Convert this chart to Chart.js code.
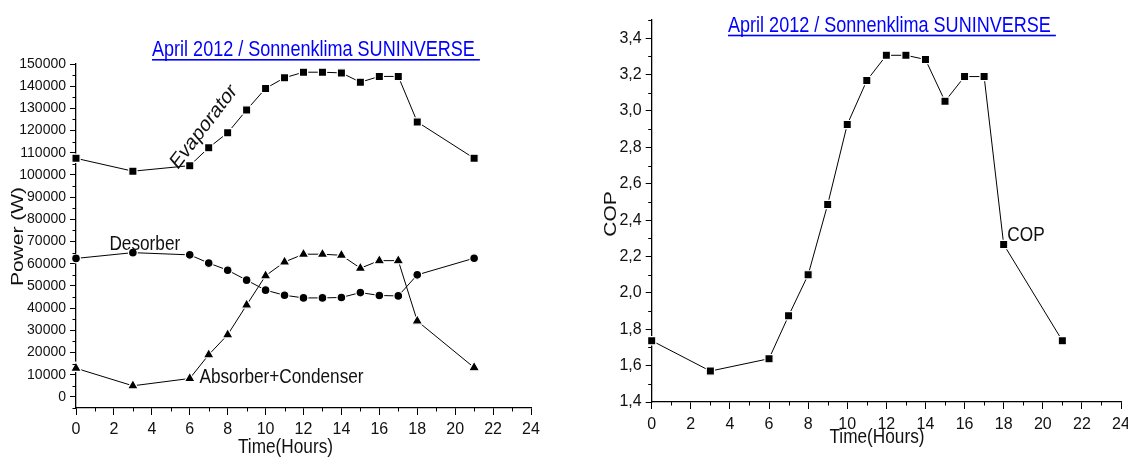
<!DOCTYPE html>
<html><head><meta charset="utf-8">
<script src="https://cdn.jsdelivr.net/npm/chart.js@4.4.1/dist/chart.umd.min.js"></script>
<style>
html,body{margin:0;padding:0;background:#fff;}
#wrap{position:relative;width:1128px;height:459px;overflow:hidden;background:#fff;}
.box{position:absolute;top:0;height:459px;}
</style></head><body>
<div id="wrap">
<div class="box" style="left:0;width:566px"><canvas id="left"></canvas></div>
<div class="box" style="left:566px;width:562px"><canvas id="right"></canvas></div>
</div>
<script>
// ---- data ----
const hours = [0, 3, 6, 7, 8, 9, 10, 11, 12, 13, 14, 15, 16, 17, 18, 21];
const evaporator = [107500, 101700, 104200, 112300, 119000, 129300, 139000, 143800, 146300, 146300, 146000, 141800, 144400, 144400, 123900, 107500];
const desorber = [62400, 65000, 64000, 60300, 57100, 52600, 48100, 45800, 44600, 44600, 44800, 47000, 45700, 45500, 55000, 62500];
const absorberCondenser = [12900, 5000, 8300, 19000, 28000, 41400, 54600, 60800, 64300, 64300, 63800, 58000, 61400, 61400, 34200, 13200];
const cop = [1.737, 1.570, 1.638, 1.874, 2.099, 2.486, 2.925, 3.167, 3.306, 3.306, 3.283, 3.053, 3.189, 3.189, 2.266, 1.737];

// ---- ticks ----
const xTicks = [0, 2, 4, 6, 8, 10, 12, 14, 16, 18, 20, 22, 24];
const xTickLabels = ['0', '2', '4', '6', '8', '10', '12', '14', '16', '18', '20', '22', '24'];
const xMinor = [1, 3, 5, 7, 9, 11, 13, 15, 17, 19, 21, 23];
const powerTicks = [0, 10000, 20000, 30000, 40000, 50000, 60000, 70000, 80000, 90000, 100000, 110000, 120000, 130000, 140000, 150000];
const powerTickLabels = ['0', '10000', '20000', '30000', '40000', '50000', '60000', '70000', '80000', '90000', '100000', '110000', '120000', '130000', '140000', '150000'];
const powerMinor = [-5000, 5000, 15000, 25000, 35000, 45000, 55000, 65000, 75000, 85000, 95000, 105000, 115000, 125000, 135000, 145000];
const copTicks = [1.4, 1.6, 1.8, 2.0, 2.2, 2.4, 2.6, 2.8, 3.0, 3.2, 3.4];
const copTickLabels = ['1,4', '1,6', '1,8', '2,0', '2,2', '2,4', '2,6', '2,8', '3,0', '3,2', '3,4'];
const copMinor = [1.5, 1.7, 1.9, 2.1, 2.3, 2.5, 2.7, 2.9, 3.1, 3.3, 3.5];

const titleText = 'April 2012 / Sonnenklima SUNINVERSE';

const FN = '"Liberation Sans Narrow", "Arial Narrow", "Liberation Sans", Arial, sans-serif';
const FT = '"Liberation Sans", Arial, sans-serif';
const SX = 0.82;

const minorPlugin = {
  id: 'minorTicks',
  afterDraw(chart, args, o) {
    const ctx = chart.ctx, a = chart.chartArea;
    const xs = chart.scales.x, ys = chart.scales.y;
    ctx.save();
    ctx.strokeStyle = '#000'; ctx.lineWidth = 1;
    ctx.beginPath();
    (o.x || []).forEach(v => { const p = Math.round(xs.getPixelForValue(v)) + 0.5; ctx.moveTo(p, a.bottom); ctx.lineTo(p, a.bottom + o.len); });
    (o.y || []).forEach(v => { const p = Math.round(ys.getPixelForValue(v)) + 0.5; ctx.moveTo(a.left, p); ctx.lineTo(a.left - o.len, p); });
    ctx.stroke();
    ctx.restore();
  }
};

const textPlugin = {
  id: 'texts',
  afterDraw(chart, args, o) {
    const ctx = chart.ctx;
    (o.items || []).forEach(it => {
      let px = it.px, py = it.py;
      if (it.dx !== undefined) { px = chart.scales.x.getPixelForValue(it.dx); py = chart.scales.y.getPixelForValue(it.dy); }
      ctx.save();
      ctx.translate(px, py);
      ctx.scale(SX, 1);
      if (it.rot) ctx.rotate(it.rot * Math.PI / 180);
      ctx.font = it.size + 'px ' + FT;
      ctx.fillStyle = it.color || '#111';
      ctx.textAlign = it.align || 'center';
      ctx.textBaseline = it.baseline || 'middle';
      ctx.fillText(it.text, 0, 0);
      if (it.underline) {
        const w = ctx.measureText(it.text + ' ').width;
        ctx.fillRect(0, 3, w, 1.6);
      }
      ctx.restore();
    });
  }
};

function series(vals, style, radius) {
  return {
    data: hours.map((h, i) => ({ x: h, y: vals[i] })),
    borderColor: '#000', borderWidth: 1, tension: 0, fill: false,
    pointStyle: style, pointRadius: radius, pointBackgroundColor: '#000',
    pointBorderColor: '#fff', pointBorderWidth: 1.2, clip: false
  };
}

function xScale(h, pad) {
  return {
    type: 'linear', min: 0, max: 24,
    afterBuildTicks: s => { s.ticks = xTicks.map(v => ({ value: v })); },
    afterFit: s => { s.height = h; s.paddingLeft = 0; s.paddingRight = 0; },
    ticks: { font: { family: FN, size: 16 }, color: '#111', padding: pad, maxRotation: 0, autoSkip: false, callback: (v, i) => xTickLabels[i] },
    grid: { drawOnChartArea: false, drawTicks: true, tickLength: 7, tickColor: '#000', tickWidth: 1 },
    border: { display: true, color: '#000', width: 1.3 }
  };
}

new Chart(document.getElementById('left'), {
  type: 'line',
  data: { datasets: [
    series(evaporator, 'rect', 5.8),
    series(desorber, 'circle', 4.4),
    series(absorberCondenser, 'triangle', 6.3)
  ] },
  options: {
    responsive: true, maintainAspectRatio: false, animation: false, devicePixelRatio: 1,
    layout: { padding: { top: 64, right: 35, left: 0, bottom: 0 } },
    plugins: {
      legend: { display: false }, tooltip: { enabled: false }, title: { display: false },
      minorTicks: { x: xMinor, y: powerMinor, len: 3.5 },
      texts: { items: [
        { text: titleText, px: 152, py: 56, size: 22, color: '#0000ff', align: 'left', baseline: 'alphabetic', underline: true },
        { text: 'Time(Hours)', px: 285.5, py: 447, size: 21 },
        { text: 'Power (W)', px: 18.5, py: 236.5, size: 21, rot: -90 },
        { text: 'Evaporator', dx: 6.75, dy: 121600, size: 22, rot: -47 },
        { text: 'Desorber', dx: 3.63, dy: 68900, size: 21 },
        { text: 'Absorber+Condenser', dx: 10.84, dy: 9000, size: 21 }
      ] }
    },
    scales: {
      x: xScale(51, 5),
      y: {
        min: -5000, max: 150000,
        afterBuildTicks: s => { s.ticks = powerTicks.map(v => ({ value: v })); },
        afterFit: s => { s.width = 76; },
        ticks: { font: { family: FN, size: 14 }, color: '#111', padding: 4, autoSkip: false, callback: (v, i) => powerTickLabels[i] },
        grid: { drawOnChartArea: false, drawTicks: true, tickLength: 6, tickColor: '#000', tickWidth: 1 },
        border: { display: true, color: '#000', width: 1.3 }
      }
    }
  },
  plugins: [minorPlugin, textPlugin]
});

new Chart(document.getElementById('right'), {
  type: 'line',
  data: { datasets: [ series(cop, 'rect', 5.8) ] },
  options: {
    responsive: true, maintainAspectRatio: false, animation: false, devicePixelRatio: 1,
    layout: { padding: { top: 20, right: 7, left: 0, bottom: 0 } },
    plugins: {
      legend: { display: false }, tooltip: { enabled: false }, title: { display: false },
      minorTicks: { x: xMinor, y: copMinor, len: 3.5 },
      texts: { items: [
        { text: titleText, px: 162, py: 31.7, size: 22, color: '#0000ff', align: 'left', baseline: 'alphabetic', underline: true },
        { text: 'Time(Hours)', px: 311, py: 437, size: 21 },
        { text: 'COP', px: 45, py: 214, size: 21, rot: -90 },
        { text: 'COP', dx: 19.14, dy: 2.318, size: 21 }
      ] }
    },
    scales: {
      x: xScale(57, 6),
      y: {
        min: 1.4, max: 3.5,
        afterBuildTicks: s => { s.ticks = copTicks.map(v => ({ value: v })); },
        afterFit: s => { s.width = 85.7; },
        ticks: { font: { family: FN, size: 16 }, color: '#111', padding: 4, autoSkip: false, callback: (v, i) => copTickLabels[i] },
        grid: { drawOnChartArea: false, drawTicks: true, tickLength: 6, tickColor: '#000', tickWidth: 1 },
        border: { display: true, color: '#000', width: 1.3 }
      }
    }
  },
  plugins: [minorPlugin, textPlugin]
});
</script>
</body></html>
